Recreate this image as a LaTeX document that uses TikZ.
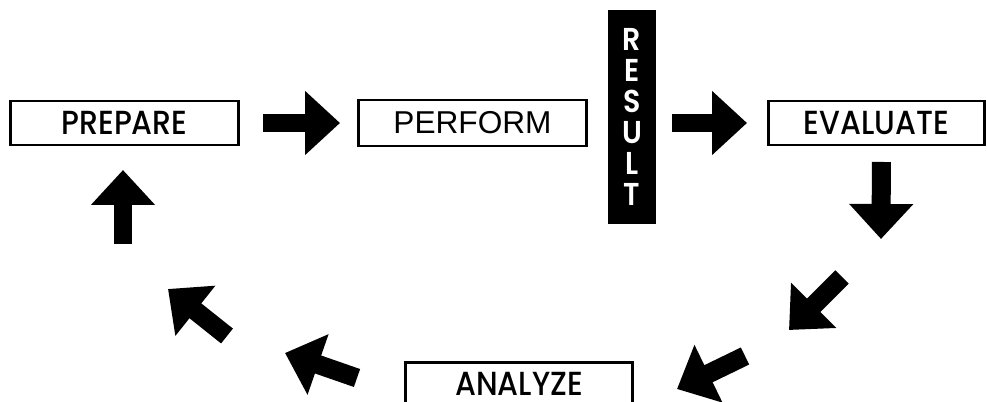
\documentclass[tikz,border=0pt]{standalone}
\usepackage{fontspec}
\usetikzlibrary{arrows.meta}
\newfontfamily\geofont{Poppins}[UprightFont=* Medium, BoldFont=* SemiBold, FakeStretch=0.9]
\newfontfamily\arialfont{Liberation Sans}

\tikzset{
	stepbox/.style={draw, line width=1.7pt, minimum height=0.88cm, inner sep=0pt,
		font=\geofont\fontsize{19}{19}\selectfont},
	bigarrow/.style={line width=0.38cm, -{Triangle[length=0.7cm,width=1.24cm]}},
}

\begin{document}
\begin{tikzpicture}[x=0.02cm,y=-0.02cm]
	\clip (0,0) rectangle (987,402);
	\fill[white] (0,0) rectangle (987,402);

	%the steps
	\node[stepbox, minimum width=4.58cm] (prepare) at (124.5,123) {PREPARE};
	\node[stepbox, minimum width=4.58cm, minimum height=0.92cm,
		font=\arialfont\fontsize{18}{18}\selectfont] (perform) at (472.5,123) {PERFORM};
	\node[fill=black, text=white, minimum width=0.96cm, minimum height=4.28cm, inner sep=0pt,
		align=center, font=\geofont\bfseries\fontsize{18}{17.6}\selectfont] (result) at (632,117)
		{R\\E\\S\\U\\L\\T};
	\node[stepbox, minimum width=4.34cm] (evaluate) at (876.5,123) {EVALUATE};
	\node[stepbox, minimum width=4.56cm] (analyze) at (519,384) {ANALYZE};

	%loose ends of the arrows
	\coordinate (downtip) at (881,239);
	\coordinate (swonetail) at (842,277);
	\coordinate (swonetip) at (789,330);
	\coordinate (swtwotail) at (745,356);
	\coordinate (swtwotip) at (677,389);
	\coordinate (nwtwotail) at (357,378);
	\coordinate (nwtwotip) at (285,353);
	\coordinate (nwonetail) at (227,336);
	\coordinate (nwonetip) at (168,289);
	\coordinate (uptail) at (123,244);

	%arrows
	\draw[bigarrow, shorten <=0.46cm, shorten >=0.33cm] (prepare) -- (perform);
	\draw[bigarrow, shorten <=0.32cm, shorten >=0.39cm] (result.east |- evaluate) -- (evaluate);
	\draw[bigarrow, shorten <=0.31cm] ([xshift=0.1cm]evaluate.south) -- (downtip);
	\draw[bigarrow] (swonetail) -- (swonetip);
	\draw[bigarrow] (swtwotail) -- (swtwotip);
	\draw[bigarrow] (nwtwotail) -- (nwtwotip);
	\draw[bigarrow] (nwonetail) -- (nwonetip);
	\draw[bigarrow, shorten >=0.47cm] (uptail) -- (uptail |- prepare.south);
\end{tikzpicture}
\end{document}
